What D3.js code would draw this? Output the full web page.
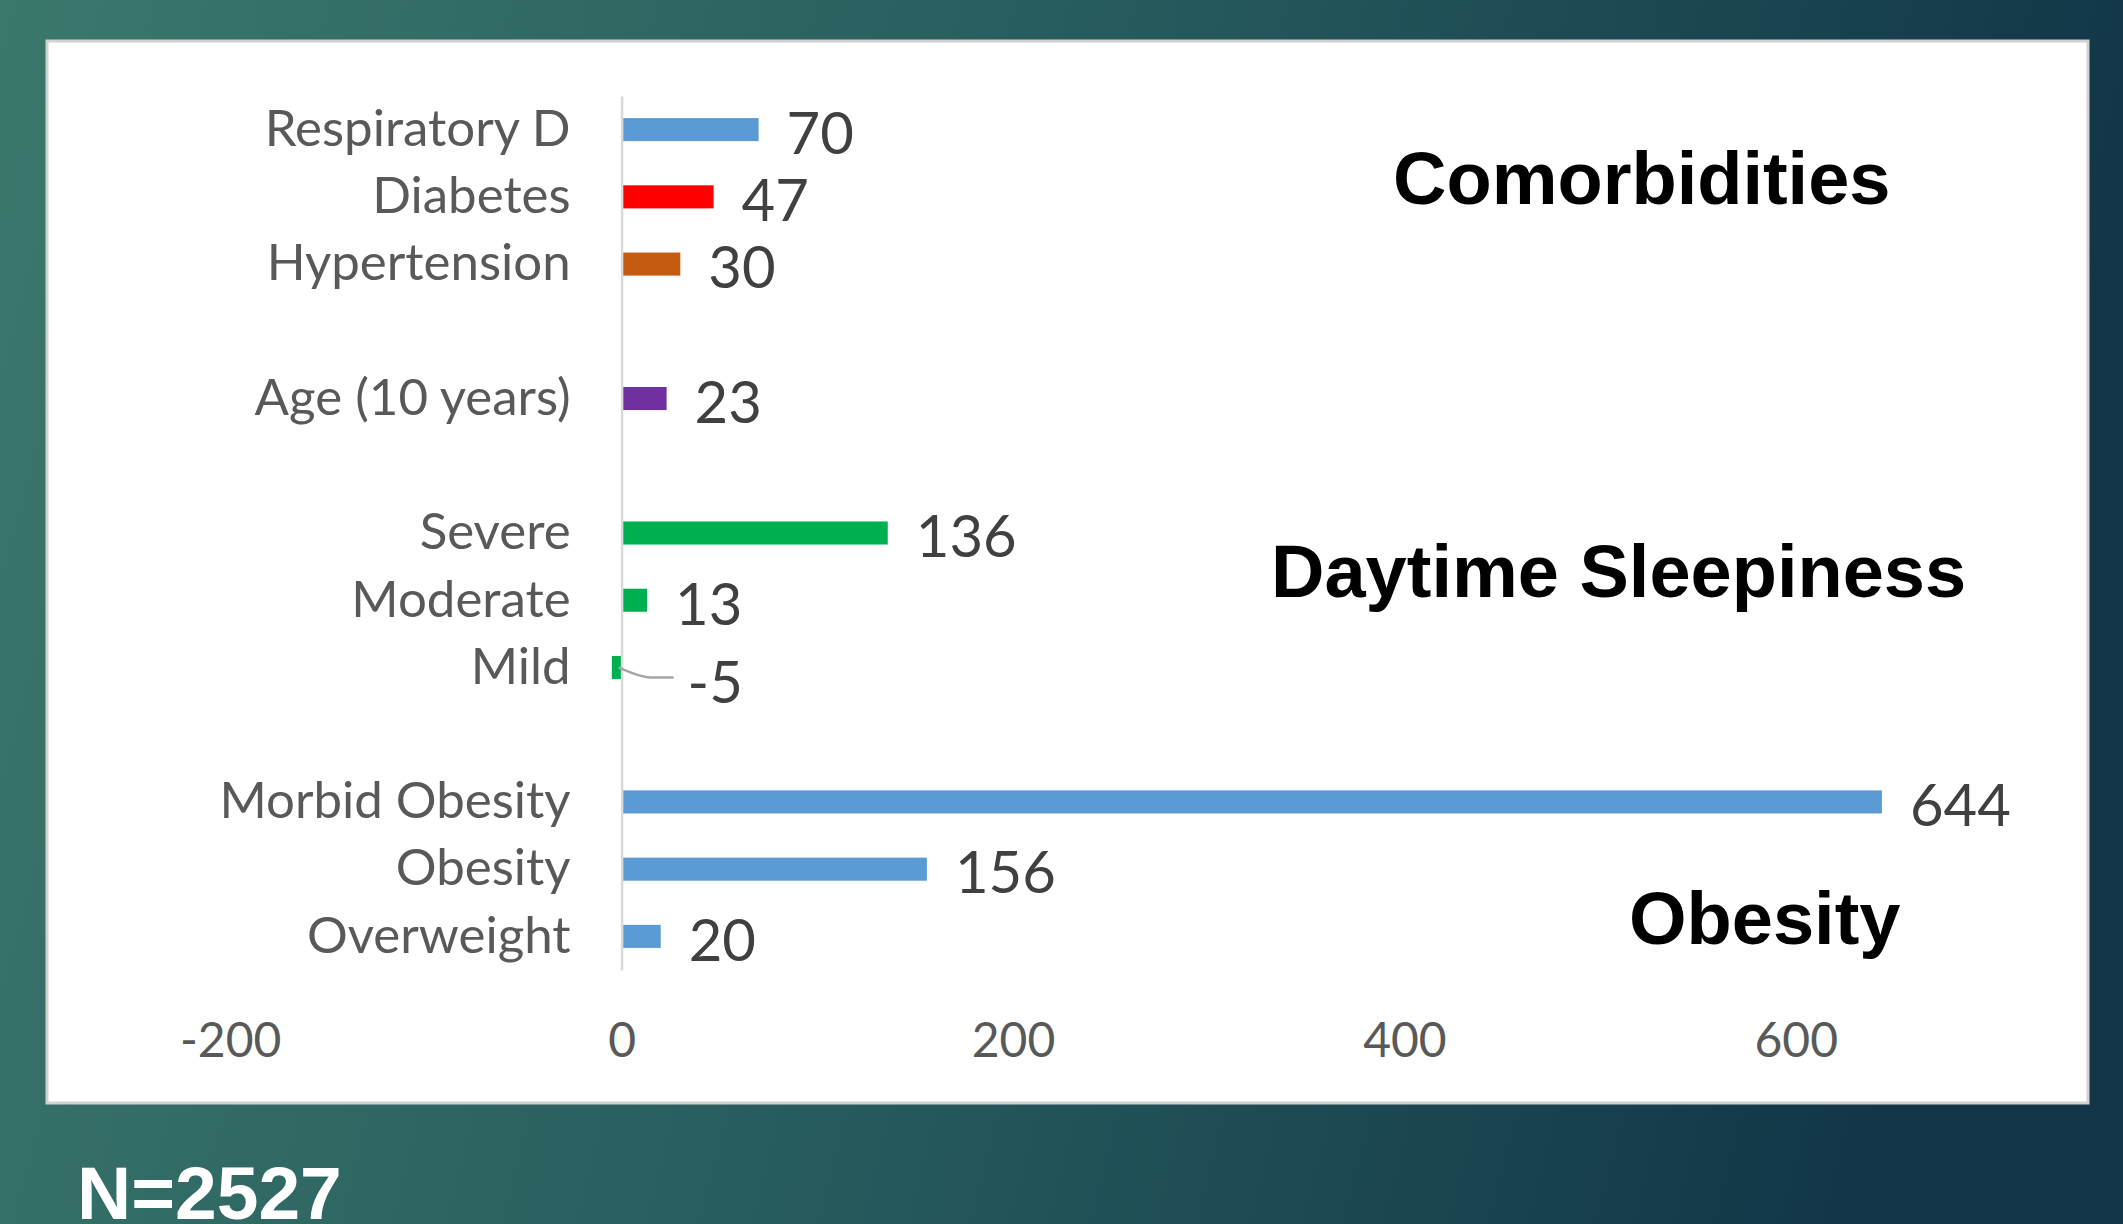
<!DOCTYPE html>
<html>
<head>
<meta charset="utf-8">
<script src="https://cdn.jsdelivr.net/npm/d3@7"></script>
<style>
  body { margin: 0; background: #1f4f57; }
  svg { display: block; }
</style>
</head>
<body>
<svg id="chart"></svg>
<script>
// chart data, top to bottom; empty labels are the gaps between groups
const categories = ["Respiratory D", "Diabetes", "Hypertension", "", "Age (10 years)", "",
                    "Severe", "Moderate", "Mild", "", "Morbid Obesity", "Obesity", "Overweight"];
const values = [70, 47, 30, null, 23, null, 136, 13, -5, null, 644, 156, 20];
const xTicks = [-200, 0, 200, 400, 600];
const xDomain = [-200, 700];
const groupTitles = ["Comorbidities", "Daytime Sleepiness", "Obesity"];
const footnote = "N=2527";

const barColors = {
  "Respiratory D": "#5b9bd5", "Diabetes": "#ff0000", "Hypertension": "#c55a11",
  "Age (10 years)": "#7030a0", "Severe": "#00b050", "Moderate": "#00b050", "Mild": "#00b050",
  "Morbid Obesity": "#5b9bd5", "Obesity": "#5b9bd5", "Overweight": "#5b9bd5"
};

let width = 2123, height = 1224;
let svg = d3.select('#chart').attr('width', width).attr('height', height);

// background gradient + white panel
let defs = svg.append('defs');
let grad = defs.append('linearGradient').attr('id', 'bg')
    .attr('x1', 0).attr('y1', 0).attr('x2', 1).attr('y2', 0.15);
grad.append('stop').attr('offset', '0%').attr('stop-color', '#3b786c');
grad.append('stop').attr('offset', '50%').attr('stop-color', '#275c5e');
grad.append('stop').attr('offset', '100%').attr('stop-color', '#123648');
svg.append('rect').attr('width', width).attr('height', height).attr('fill', 'url(#bg)');

svg.append('rect')
    .attr('x', 47).attr('y', 41).attr('width', 2041).attr('height', 1062)
    .attr('fill', '#ffffff').attr('stroke', '#d2d2d2').attr('stroke-width', 3);

let data = categories.map((c, i) => ({ label: c, value: values[i], idx: i }));
let bars = data.filter(d => d.value !== null);

let x = d3.scaleLinear().domain(xDomain).range([230.2, 1991.5]);
let y = d3.scaleBand()
    .domain(d3.range(categories.length))
    .range([96, 970])
    .paddingInner(0.657)
    .paddingOuter(0.657 / 2);

// bars
svg.append('g').selectAll('rect')
    .data(bars).enter().append('rect')
    .attr('x', d => x(Math.min(0, d.value)))
    .attr('width', d => Math.abs(x(d.value) - x(0)))
    .attr('y', d => y(d.idx))
    .attr('height', y.bandwidth())
    .attr('fill', d => barColors[d.label]);

// category axis sits on the zero line
let yAxis = d3.axisLeft(y).tickSize(0).tickSizeOuter(0).tickPadding(51)
    .tickFormat(i => categories[i]);
let gy = svg.append('g').attr('transform', 'translate(' + x(0) + ',0)').call(yAxis);
gy.select('.domain').attr('stroke', '#d9d9d9').attr('stroke-width', 2.5);
gy.selectAll('text')
    .attr('font-family', 'Lato, sans-serif').attr('font-size', 51)
    .attr('fill', '#595959');

let xAxis = d3.axisBottom(x).tickValues(xTicks).tickSize(0).tickPadding(0)
    .tickFormat(d => String(d));
let gx = svg.append('g').attr('transform', 'translate(0,1023)').call(xAxis);
gx.select('.domain').remove();
gx.selectAll('text')
    .attr('font-family', 'Lato, sans-serif').attr('font-size', 48)
    .attr('fill', '#595959');

// value labels; negative value gets a leader line
let labels = svg.append('g')
    .attr('font-family', 'Lato, sans-serif').attr('font-size', 58).attr('fill', '#404040');
bars.forEach(d => {
    let cy = y(d.idx) + y.bandwidth() / 2;
    if (d.value >= 0) {
        labels.append('text')
            .attr('x', x(d.value) + 28).attr('y', cy + 4)
            .attr('dy', '0.35em').text(d.value);
    } else {
        let x0 = x(0) - 3;
        svg.append('path')
            .attr('d', 'M' + x0 + ',' + cy + ' Q' + (x0 + 22) + ',' + (cy + 10) + ' ' + (x0 + 32) + ',' + (cy + 10) + ' L' + (x0 + 55) + ',' + (cy + 10))
            .attr('fill', 'none').attr('stroke', '#a6a6a6').attr('stroke-width', 2.5);
        labels.append('text')
            .attr('x', x(0) + 66).attr('y', cy + 15)
            .attr('dy', '0.35em').text(d.value);
    }
});

// group titles
let titlePos = [[1393, 204], [1271, 597], [1629, 944]];
svg.append('g').selectAll('text')
    .data(groupTitles).enter().append('text')
    .attr('x', (d, i) => titlePos[i][0]).attr('y', (d, i) => titlePos[i][1])
    .attr('font-family', '"Liberation Sans", Arial, sans-serif')
    .attr('font-weight', 'bold').attr('font-size', 74).attr('fill', '#000000')
    .text(d => d);

svg.append('text')
    .attr('x', 77).attr('y', 1219)
    .attr('font-family', '"Liberation Sans", Arial, sans-serif')
    .attr('font-weight', 'bold').attr('font-size', 75).attr('fill', '#ffffff')
    .text(footnote);
</script>
</body>
</html>
